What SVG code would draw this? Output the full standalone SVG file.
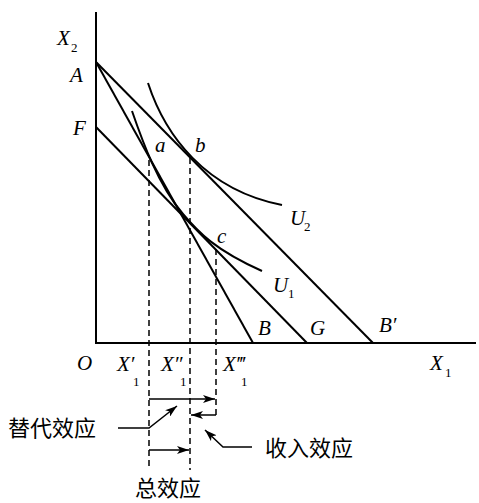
<svg xmlns="http://www.w3.org/2000/svg" width="479" height="503" viewBox="0 0 479 503">
<style>
.ln{fill:none;stroke:#000;stroke-width:2}
.ds{fill:none;stroke:#000;stroke-width:1.5;stroke-dasharray:6 4}
.ar{fill:none;stroke:#000;stroke-width:1.5}
.m{font-family:"Liberation Serif","DejaVu Serif",serif;font-style:italic;font-size:21px;fill:#000}
.s{font-family:"Liberation Serif","DejaVu Serif",serif;font-size:13px;fill:#000}
.zh{font-family:"Liberation Serif","Noto Sans CJK SC",sans-serif;font-size:22px;fill:#000}
</style>
<defs>
<marker id="ah" viewBox="0 0 12 8" refX="12" refY="4" markerWidth="12" markerHeight="8" markerUnits="userSpaceOnUse" orient="auto">
<path d="M0,0 L12,4 L0,8 L3,4 Z" fill="#000"/>
</marker>
</defs>
<g id="axes">
<line class="ln" x1="96" y1="12" x2="96" y2="344"/>
<line class="ln" x1="95" y1="343" x2="476" y2="343"/>
</g>
<g id="budget-lines">
<line class="ln" x1="96" y1="62" x2="253" y2="343"/>
<line class="ln" x1="96" y1="62" x2="373" y2="343"/>
<line class="ln" x1="96" y1="127" x2="307" y2="343"/>
</g>
<g id="curves">
<path id="U2" class="ln" d="M148,83 C165,135 205,190 282,205"/>
<path id="U1" class="ln" d="M132,111 C142,140 158,185 183,214 C198,232 215,250 262,271"/>
</g>
<g id="connectors">
<line class="ds" x1="149" y1="160" x2="149" y2="470"/>
<line class="ds" x1="190" y1="158" x2="190" y2="470"/>
<line class="ds" x1="216" y1="249" x2="216" y2="418"/>
<line class="ar" x1="149" y1="399" x2="215" y2="399" marker-end="url(#ah)"/>
<line class="ar" x1="216" y1="415" x2="191" y2="415" marker-end="url(#ah)"/>
<line class="ar" x1="149" y1="450" x2="189" y2="450" marker-end="url(#ah)"/>
<polyline class="ar" points="118,428 149,428 177,406" marker-end="url(#ah)"/>
<polyline class="ar" points="252,447 223,447 205,430" marker-end="url(#ah)"/>
</g>
<g id="labels">
<text class="m" x="57" y="45">X</text><text class="s" x="71" y="52">2</text>
<text class="m" x="70" y="82">A</text>
<text class="m" x="73" y="135">F</text>
<text class="m" x="155" y="152">a</text>
<text class="m" x="195" y="152">b</text>
<text class="m" x="217" y="243">c</text>
<text class="m" x="290" y="225">U</text><text class="s" x="304" y="231">2</text>
<text class="m" x="273" y="292">U</text><text class="s" x="288" y="298">1</text>
<text class="m" x="258" y="335">B</text>
<text class="m" x="310" y="335">G</text>
<text class="m" x="379" y="332">B′</text>
<text class="m" x="77" y="370">O</text>
<text class="m" x="117" y="371">X′</text><text class="s" x="133" y="386">1</text>
<text class="m" x="161" y="371">X″</text><text class="s" x="180" y="386">1</text>
<text class="m" x="223" y="371">X‴</text><text class="s" x="241" y="386">1</text>
<text class="m" x="430" y="370">X</text><text class="s" x="445" y="377">1</text>
</g>
<g id="effect-labels">
<text class="zh" x="8" y="436">替代效应</text>
<text class="zh" x="265" y="456">收入效应</text>
<text class="zh" x="135" y="496">总效应</text>
</g>
</svg>
